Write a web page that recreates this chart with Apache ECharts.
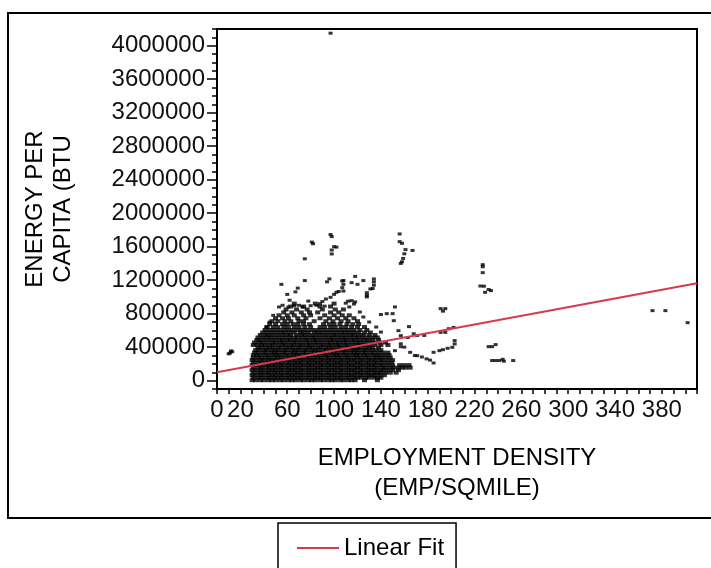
<!DOCTYPE html>
<html><head><meta charset="utf-8">
<script src="https://cdn.jsdelivr.net/npm/echarts@6/dist/echarts.min.js"></script>
<style>html,body{margin:0;padding:0;background:#fff}#c{width:711px;height:568px}</style>
</head><body><div id="c"></div>
<script>
// ---- tick labels ----
const xLabelValues = [0, 20, 60, 100, 140, 180, 220, 260, 300, 340, 380];
const yLabelValues = [0, 400000, 800000, 1200000, 1600000, 2000000, 2400000, 2800000, 3200000, 3600000, 4000000];

// ---- linear fit ----
const fitX = [0, 410];
const fitY = [99000, 1164000];

// ---- dense core of the cloud: y level and the x values read along it ----
const coreLevels = [5000, 35000, 65000, 95000, 125000, 155000, 185000, 215000, 245000, 275000, 305000, 335000, 365000, 395000];
const coreRows = [
  [30,33,37,40,44,47,50,54,57,61,64,67,71,74,78,81,84,88,91,95,98,101,105,108,112,115,118,126,137],
  [31,35,38,42,45,49,52,55,59,62,66,69,72,76,79,83,86,89,93,96,100,103,106,110,113,117,120,123,127,130,134,137,140],
  [30,33,37,40,44,47,50,54,57,61,64,67,71,74,78,81,84,88,91,95,98,101,105,108,112,115,118,122,125,129,132,135,139,143],
  [31,35,38,42,45,49,52,55,59,62,66,69,72,76,79,83,86,89,93,96,100,103,106,110,113,117,120,123,127,130,134,137,140,144,148,153],
  [30,33,37,40,44,47,50,54,57,61,64,67,71,74,78,81,84,88,91,95,98,101,105,108,112,115,118,122,125,129,132,135,139,142,146,150,155],
  [31,35,38,42,45,49,52,55,59,62,66,69,72,76,79,83,86,89,93,96,100,103,106,110,113,117,120,123,127,130,134,137,141,144,148,151,155,158,161,165],
  [30,33,37,40,44,47,50,54,57,61,64,67,71,74,78,81,84,88,91,95,98,101,105,108,112,115,118,122,125,129,132,135,139,142,146,150,156,160,164],
  [31,35,38,42,45,49,52,55,59,62,66,69,72,76,79,83,86,89,93,96,100,103,106,110,113,117,120,123,127,130,134,137,141,145,149],
  [30,33,37,40,44,47,50,54,57,61,64,67,71,74,78,81,84,88,91,95,98,101,105,108,112,115,118,122,125,129,132,135,139,142,146,150],
  [31,35,38,42,45,49,52,55,59,62,66,69,72,76,79,83,86,89,93,96,100,103,106,110,113,117,120,123,127,130,134,137,140,144,148],
  [31,34,37,41,44,48,51,54,58,61,65,68,71,75,78,82,85,88,92,95,99,102,105,109,112,116,119,122,126,129,133,136,139,143,147],
  [32,35,39,42,46,49,52,56,59,63,66,69,73,76,80,83,86,90,93,97,100,103,107,110,114,117,120,124,127,131,134,138,142,146],
  [33,36,40,43,47,50,53,57,60,64,67,70,74,77,81,84,87,91,94,98,101,104,108,111,115,118,121,125,128,132,136,140],
  [35,38,42,45,48,52,55,59,62,65,69,72,76,79,82,86,89,93,96,99,103,106,110,113,116,120,123,127,130,133,138]
];

// ---- upper, thinner part of the cloud ----
const cloudLevels = [425000, 455000, 485000, 515000, 545000, 575000, 605000, 640000, 675000, 710000, 745000, 780000, 815000, 850000, 885000, 920000];
const cloudRows = [
  [31,34,38,41,45,48,52,56,59,63,66,70,73,77,80,84,88,91,95,98,102,105,109,112,116,120,123,127,131,135,140,146],
  [32,36,39,43,47,50,54,57,61,65,68,72,76,79,83,86,90,94,97,101,104,108,111,115,119,122,126,130,134,139,144],
  [34,37,41,45,49,53,56,60,63,67,71,75,78,82,85,89,93,97,100,104,108,111,115,118,122,126,129,133,138],
  [35,39,43,46,50,54,58,62,66,69,73,77,81,84,88,92,96,99,103,107,110,114,118,121,125,129,133,137],
  [37,41,44,48,52,56,60,63,68,72,75,79,83,87,91,95,99,102,106,110,114,117,121,125,130,135],
  [39,43,47,51,55,58,62,66,71,74,78,83,86,90,94,98,102,106,109,113,117,121,126,131],
  [41,45,49,53,57,61,65,69,73,77,81,85,89,93,97,101,105,109,113,117,122,128],
  [43,48,52,57,61,66,70,75,80,88,92,97,101,106,110,115,120,126],
  [45,50,56,60,65,69,74,79,91,96,100,105,111,116,121],
  [47,52,58,63,70,74,83,93,99,106,112,120],
  [50,56,61,69,76,88,96,103,110,117],
  [53,60,66,74,80,92,100,107,113],
  [57,64,72,79,86,97,104],
  [59,68,77,90,101,108],
  [63,74,88,97],
  [66,84,100]
];

// ---- scattered points outside the cloud ----
const sparsePoints = [
  [97,4150000],
  [156,1752000],[156,1660000],[158,1640000],[161,1565000],[167,1555000],[160,1515000],[159,1460000],[158,1420000],[157,1400000],
  [97,1745000],[98,1720000],[100,1600000],[98,1560000],[102,1595000],[98,1513000],
  [81,1655000],[82,1635000],[75,1455000],
  [55,1150000],[60,1030000],[67,1060000],[69,1105000],[75,1195000],[94,1180000],[96,1215000],
  [108,1195000],[118,1245000],[115,1170000],[120,1150000],[125,1195000],
  [134,1215000],[134,1180000],[134,1140000],[133,1100000],[131,1095000],[128,1050000],[128,1020000],[128,1000000],
  [107,1190000],[108,1150000],[107,1110000],[108,1070000],
  [104,1065000],[100,1030000],[97,995000],[102,1055000],[93,975000],[90,945000],[85,900000],
  [110,925000],[112,950000],[115,955000],[117,915000],[118,940000],
  [152,880000],[150,800000],[145,800000],[140,790000],[151,716000],[164,645000],
  [191,860000],[195,860000],[193,830000],
  [53,880000],[56,900000],[61,880000],[66,895000],[70,900000],[73,880000],[80,895000],[88,920000],[92,890000],
  [48,780000],[45,700000],[42,640000],[62,960000],[78,950000],[113,880000],[122,820000],[125,760000],[130,700000],[136,640000],[140,580000],
  [155,597000],[157,537000],[163,515000],[168,560000],[171,540000],[177,540000],
  [191,577000],[195,577000],[198,620000],[202,635000],
  [157,440000],[160,400000],[157,405000],[152,358000],
  [165,338000],[169,300000],[171,298000],[175,282000],[179,260000],[182,245000],[185,211000],
  [185,338000],[190,358000],[193,370000],[197,386000],[201,398000],[203,438000],[203,478000],
  [10,320000],[11,330000],[12,355000],[13,345000],
  [227,1385000],[227,1360000],[227,1290000],[225,1130000],[228,1128000],[229,1055000],[232,1088000],[234,1075000],
  [232,406000],[235,406000],[238,430000],[235,240000],[238,240000],[241,240000],[244,255000],[245,232000],[253,240000],
  [372,836000],[383,836000],[402,692000]
];

const cloudPts = [];
coreLevels.forEach((y, i) => coreRows[i].forEach(x => cloudPts.push([x, y])));
cloudLevels.forEach((y, i) => cloudRows[i].forEach(x => cloudPts.push([x, y])));

const FONT = "'Liberation Sans', Arial, sans-serif";
const chart = echarts.init(document.getElementById('c'), null, {renderer: 'canvas'});
chart.setOption({
  animation: false,
  backgroundColor: '#fff',
  grid: {left: 217, top: 29, width: 480, height: 360, show: true, borderColor: '#000', borderWidth: 2, backgroundColor: 'transparent'},
  legend: {
    show: true, data: ['Linear Fit'], left: 278, top: 523,
    padding: [13, 12, 24, 19], borderColor: '#000', borderWidth: 1.5,
    itemWidth: 42, itemHeight: 2, icon: 'rect', itemGap: 6,
    textStyle: {fontFamily: FONT, fontSize: 24, color: '#000', padding: [0,0,0,0]}
  },
  graphic: [{type: 'rect', shape: {x: 8, y: 13, width: 720, height: 505}, style: {fill: 'none', stroke: '#000', lineWidth: 2}, silent: true}],
  xAxis: [{
    type: 'value', min: 0, max: 410, interval: 10, position: 'bottom',
    axisLine: {show: true, onZero: false, lineStyle: {color: '#000', width: 2}},
    axisTick: {show: true, length: 5, lineStyle: {color: '#000', width: 1.5}},
    axisLabel: {show: false}, splitLine: {show: false},
    name: 'EMPLOYMENT DENSITY\n(EMP/SQMILE)', nameLocation: 'middle', nameGap: 54,
    nameTextStyle: {fontFamily: FONT, fontSize: 24, color: '#000', lineHeight: 30}
  }, {
    type: 'value', min: 0, max: 410, position: 'bottom',
    axisLine: {show: false}, axisTick: {show: false}, splitLine: {show: false},
    axisLabel: {show: true, customValues: xLabelValues, margin: 9, fontFamily: FONT, fontSize: 24, color: '#111', formatter: v => String(v)}
  }],
  yAxis: [{
    type: 'value', min: -100000, max: 4200000, interval: 100000, position: 'left',
    axisLine: {show: true, onZero: false, lineStyle: {color: '#000', width: 2}},
    axisTick: {show: true, length: 5, lineStyle: {color: '#000', width: 1.5}},
    axisLabel: {show: false}, splitLine: {show: false},
    name: 'ENERGY PER\nCAPITA (BTU', nameLocation: 'middle', nameRotate: 90, nameGap: 140,
    nameTextStyle: {fontFamily: FONT, fontSize: 24, color: '#000', lineHeight: 28}
  }, {
    type: 'value', min: -100000, max: 4200000, position: 'left',
    axisLine: {show: false}, splitLine: {show: false},
    axisTick: {show: true, customValues: yLabelValues, length: 10, lineStyle: {color: '#000', width: 1.5}},
    axisLabel: {show: true, customValues: yLabelValues, margin: 12, fontFamily: FONT, fontSize: 24, color: '#111', formatter: v => String(v)}
  }],
  series: [{
    name: 'cloud', type: 'scatter', xAxisIndex: 0, yAxisIndex: 0,
    symbol: 'rect', symbolSize: [5, 4], itemStyle: {color: '#000'}, data: cloudPts, z: 2
  }, {
    name: 'sparse', type: 'scatter', xAxisIndex: 0, yAxisIndex: 0,
    symbol: 'rect', symbolSize: [4, 3], itemStyle: {color: '#000'}, data: sparsePoints, z: 2
  }, {
    name: 'Linear Fit', type: 'line', xAxisIndex: 0, yAxisIndex: 0,
    data: fitX.map((x, i) => [x, fitY[i]]), showSymbol: false, symbol: 'none',
    lineStyle: {color: '#d83a4c', width: 2}, itemStyle: {color: '#d83a4c'}, z: 3
  }]
});
</script></body></html>
